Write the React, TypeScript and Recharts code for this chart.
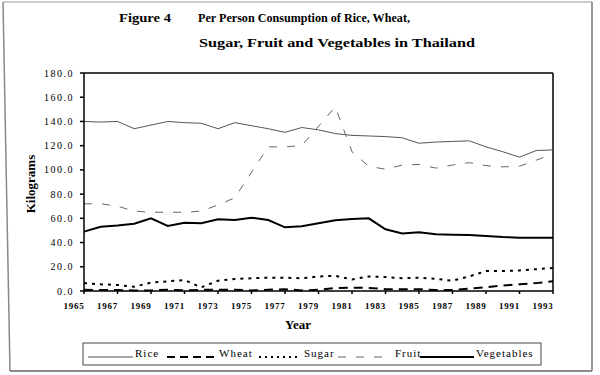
import React from 'react';
import { LineChart, Line, XAxis, YAxis, ReferenceLine } from 'recharts';

const years = [1965, 1966, 1967, 1968, 1969, 1970, 1971, 1972, 1973, 1974, 1975, 1976, 1977, 1978, 1979, 1980, 1981, 1982, 1983, 1984, 1985, 1986, 1987, 1988, 1989, 1990, 1991, 1992, 1993];
const rice = [140, 139.5, 140, 134, 137, 140, 139, 138.5, 134, 139, 136.5, 134, 131, 135, 133, 130, 128.5, 128, 127.5, 126.5, 122, 123, 123.5, 124, 119, 115, 110.5, 116, 116.5];
const wheat = [1, 0.8, 0.8, 0.5, 0.5, 1, 0.5, 1, 1, 1, 0.5, 1, 1.5, 0.5, 1, 2.5, 2.8, 2.5, 1.5, 1.5, 1.5, 0.8, 0.8, 2, 3, 4.5, 5.5, 6.5, 8];
const sugar = [6.5, 5.5, 5, 3.5, 7, 8, 9, 3, 8.5, 10, 10.5, 11, 11, 10.5, 12, 12.5, 9.5, 12, 11.5, 10.5, 11, 10, 8.5, 12, 16.5, 16.5, 17, 18, 19];
const fruit = [72, 72, 70, 66, 65, 65, 65, 66, 71, 77, 98, 119, 119, 120, 136, 152, 115, 103, 100.5, 104, 104.5, 101.5, 104, 106, 103.5, 102.5, 103, 108, 113];
const vegetables = [49, 53, 54, 55.5, 60, 53.7, 56.4, 56, 59.2, 58.6, 60.5, 58.6, 52.6, 53.5, 55.9, 58.5, 59.5, 60, 51, 47.5, 48.5, 46.8, 46.5, 46.3, 45.5, 44.5, 44, 44, 44];

const yearTicks = [1965, 1967, 1969, 1971, 1973, 1975, 1977, 1979, 1981, 1983, 1985, 1987, 1989, 1991, 1993];
const yTicks = [0, 20, 40, 60, 80, 100, 120, 140, 160, 180];

const titleLine1a = 'Figure 4';
const titleLine1b = 'Per Person Consumption of Rice, Wheat,';
const titleLine2 = 'Sugar, Fruit and Vegetables in Thailand';
const yLabel = 'Kilograms';
const xLabel = 'Year';

const data = years.map((y, i) => ({
  year: y,
  rice: rice[i],
  wheat: wheat[i],
  sugar: sugar[i],
  fruit: fruit[i],
  vegetables: vegetables[i],
}));

const serif = 'Liberation Serif';

const legendItems = [
  { label: 'Rice', x1: 88, x2: 133, tx: 135, stroke: '#555', w: 1, dash: undefined as string | undefined },
  { label: 'Wheat', x1: 167, x2: 216, tx: 219, stroke: '#000', w: 2, dash: '8 5' },
  { label: 'Sugar', x1: 259, x2: 299, tx: 304, stroke: '#000', w: 2, dash: '2 4' },
  { label: 'Fruit', x1: 338, x2: 385, tx: 395, stroke: '#666', w: 1, dash: '8 10' },
  { label: 'Vegetables', x1: 420, x2: 474, tx: 476, stroke: '#000', w: 2, dash: undefined },
];

export default function App() {
  return (
    <div style={{ position: 'absolute', left: 0, top: 0, width: 600, height: 375, background: '#fff' }}>
      <LineChart width={600} height={375} data={data} margin={{ top: 73, right: 47, left: 0, bottom: 54 }}>
        <XAxis
          dataKey="year"
          type="number"
          domain={[1965, 1993]}
          ticks={yearTicks}
          height={30}
          stroke="#000"
          strokeWidth={1.5}
          tickSize={3}
          tickMargin={9}
          tick={{ fontFamily: serif, fontSize: 9, fontWeight: 'bold', fill: '#000', letterSpacing: 0.8, dx: -10 }}
          interval={0}
        />
        <YAxis
          domain={[0, 180]}
          ticks={yTicks}
          width={84}
          stroke="#000"
          strokeWidth={1.5}
          tickSize={4}
          tickMargin={6}
          tickFormatter={(v: number) => v.toFixed(1)}
          tick={{ fontFamily: serif, fontSize: 10, fill: '#000', letterSpacing: 1.5 }}
          interval={0}
        />
        <ReferenceLine y={180} stroke="#000" strokeWidth={1.5} />
        <ReferenceLine x={1993} stroke="#000" strokeWidth={1.5} />
        <Line dataKey="rice" stroke="#555" strokeWidth={1} dot={false} isAnimationActive={false} />
        <Line dataKey="fruit" stroke="#666" strokeWidth={1} strokeDasharray="8 10" dot={false} isAnimationActive={false} />
        <Line dataKey="vegetables" stroke="#000" strokeWidth={2} dot={false} isAnimationActive={false} />
        <Line dataKey="sugar" stroke="#000" strokeWidth={2} strokeDasharray="3 5" dot={false} isAnimationActive={false} />
        <Line dataKey="wheat" stroke="#000" strokeWidth={2} strokeDasharray="9 6" dot={false} isAnimationActive={false} />
      </LineChart>
      <svg width={600} height={375} style={{ position: 'absolute', left: 0, top: 0, pointerEvents: 'none' }}>
        <line x1={3} y1={2} x2={592} y2={2} stroke="#999" strokeWidth={1} />
        <line x1={3} y1={2} x2={10} y2={371} stroke="#888" strokeWidth={1.5} />
        <line x1={592} y1={2} x2={592} y2={371} stroke="#777" strokeWidth={1.5} />
        <line x1={10} y1={371} x2={592} y2={371} stroke="#666" strokeWidth={1.5} />
        <g fontFamily={serif} fontWeight="bold" fontSize={13.5} fill="#000">
          <text x={119} y={22} textLength={52} lengthAdjust="spacingAndGlyphs">{titleLine1a}</text>
          <text x={198} y={22} textLength={212} lengthAdjust="spacingAndGlyphs">{titleLine1b}</text>
          <text x={199} y={47} textLength={276} lengthAdjust="spacingAndGlyphs">{titleLine2}</text>
        </g>
        <text x={0} y={0} transform="translate(35,184) rotate(-90)" textAnchor="middle" fontFamily={serif} fontWeight="bold" fontSize={13} fill="#000">{yLabel}</text>
        <text x={298} y={329} textAnchor="middle" fontFamily={serif} fontWeight="bold" fontSize={13} fill="#000">{xLabel}</text>
        <rect x={83} y={343} width={458} height={22} fill="none" stroke="#444" strokeWidth={1} />
        {legendItems.map((it) => (
          <g key={it.label}>
            <line x1={it.x1} y1={357} x2={it.x2} y2={357} stroke={it.stroke} strokeWidth={it.w} strokeDasharray={it.dash} />
            <text x={it.tx} y={357} fontFamily={serif} fontSize={11} fill="#000" letterSpacing={1}>{it.label}</text>
          </g>
        ))}
      </svg>
    </div>
  );
}
